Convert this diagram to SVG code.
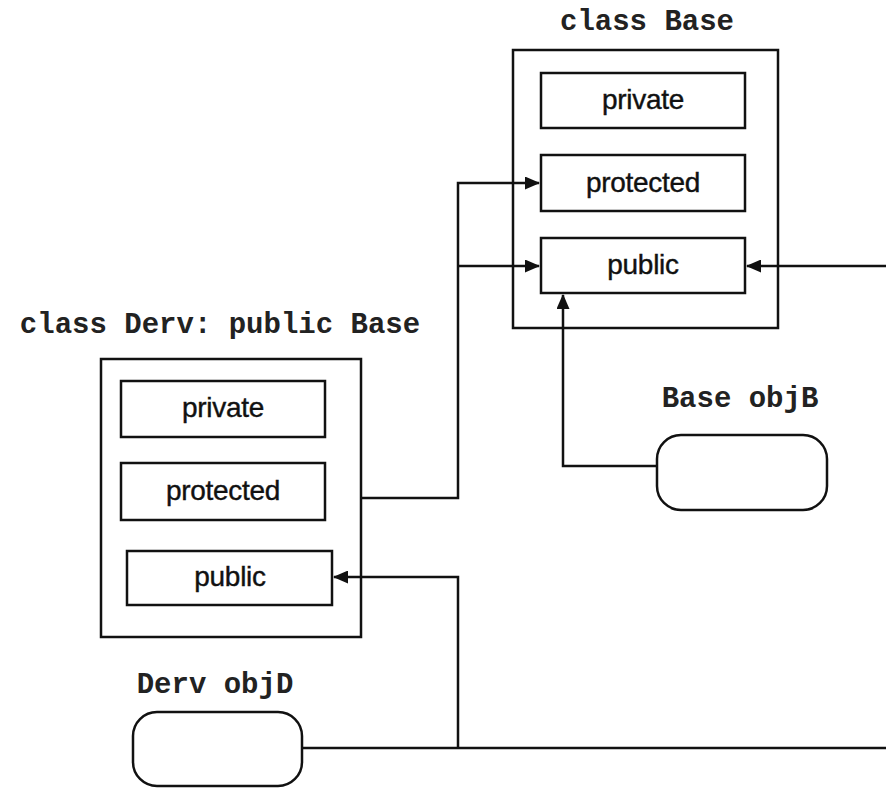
<svg xmlns="http://www.w3.org/2000/svg" width="886" height="788" viewBox="0 0 886 788">
<style>
.box{fill:none;stroke:#111;stroke-width:2.5}
.obj{fill:#fff;stroke:#111;stroke-width:2.5}
.lbl{font-family:"Liberation Sans",Arial,sans-serif;font-size:28px;fill:#111;stroke:#111;stroke-width:0.4;text-anchor:middle;letter-spacing:-0.3px}
.code{font-family:"Liberation Mono","Courier New",monospace;font-size:29px;font-weight:bold;fill:#222;text-anchor:middle}
.wire{fill:none;stroke:#111;stroke-width:2.5}
</style>
<defs>
<marker id="arr" markerWidth="15" markerHeight="13" refX="14" refY="6.5" orient="auto" markerUnits="userSpaceOnUse">
<path d="M0,0 L15,6.5 L0,13 Z" fill="#111"/>
</marker>
</defs>
<rect width="886" height="788" fill="#fff"/>
<g id="base">
<text class="code" x="647" y="30">class Base</text>
<rect class="box" x="513" y="50" width="265" height="278"/>
<g id="base-private"><rect class="box" x="541" y="73" width="204" height="55"/><text class="lbl" x="643" y="109">private</text></g>
<g id="base-protected"><rect class="box" x="541" y="155" width="204" height="56"/><text class="lbl" x="643" y="192">protected</text></g>
<g id="base-public"><rect class="box" x="541" y="238" width="204" height="55"/><text class="lbl" x="643" y="274">public</text></g>
</g>
<g id="derv">
<text class="code" x="220" y="333">class Derv: public Base</text>
<rect class="box" x="101" y="359" width="260" height="278"/>
<g id="derv-private"><rect class="box" x="121" y="381" width="204" height="56"/><text class="lbl" x="223" y="417">private</text></g>
<g id="derv-protected"><rect class="box" x="121" y="463" width="204" height="57"/><text class="lbl" x="223" y="500">protected</text></g>
<g id="derv-public"><rect class="box" x="127" y="551" width="205" height="54"/><text class="lbl" x="230" y="586">public</text></g>
</g>
<g id="objB">
<text class="code" x="740" y="407">Base objB</text>
<rect class="obj" x="657" y="435" width="170" height="75" rx="24" ry="24"/>
</g>
<g id="objD">
<text class="code" x="215" y="693">Derv objD</text>
<rect class="obj" x="133" y="712" width="169" height="74" rx="24" ry="24"/>
</g>
<g id="connectors">
<path class="wire" d="M361,498 H458 V183 H539" marker-end="url(#arr)"/>
<path class="wire" d="M458,266 H539" marker-end="url(#arr)"/>
<path class="wire" d="M886,266 H747" marker-end="url(#arr)"/>
<path class="wire" d="M657,466 H563 V295" marker-end="url(#arr)"/>
<path class="wire" d="M302,748 H886"/>
<path class="wire" d="M458,748 V577 H334" marker-end="url(#arr)"/>
</g>
</svg>
